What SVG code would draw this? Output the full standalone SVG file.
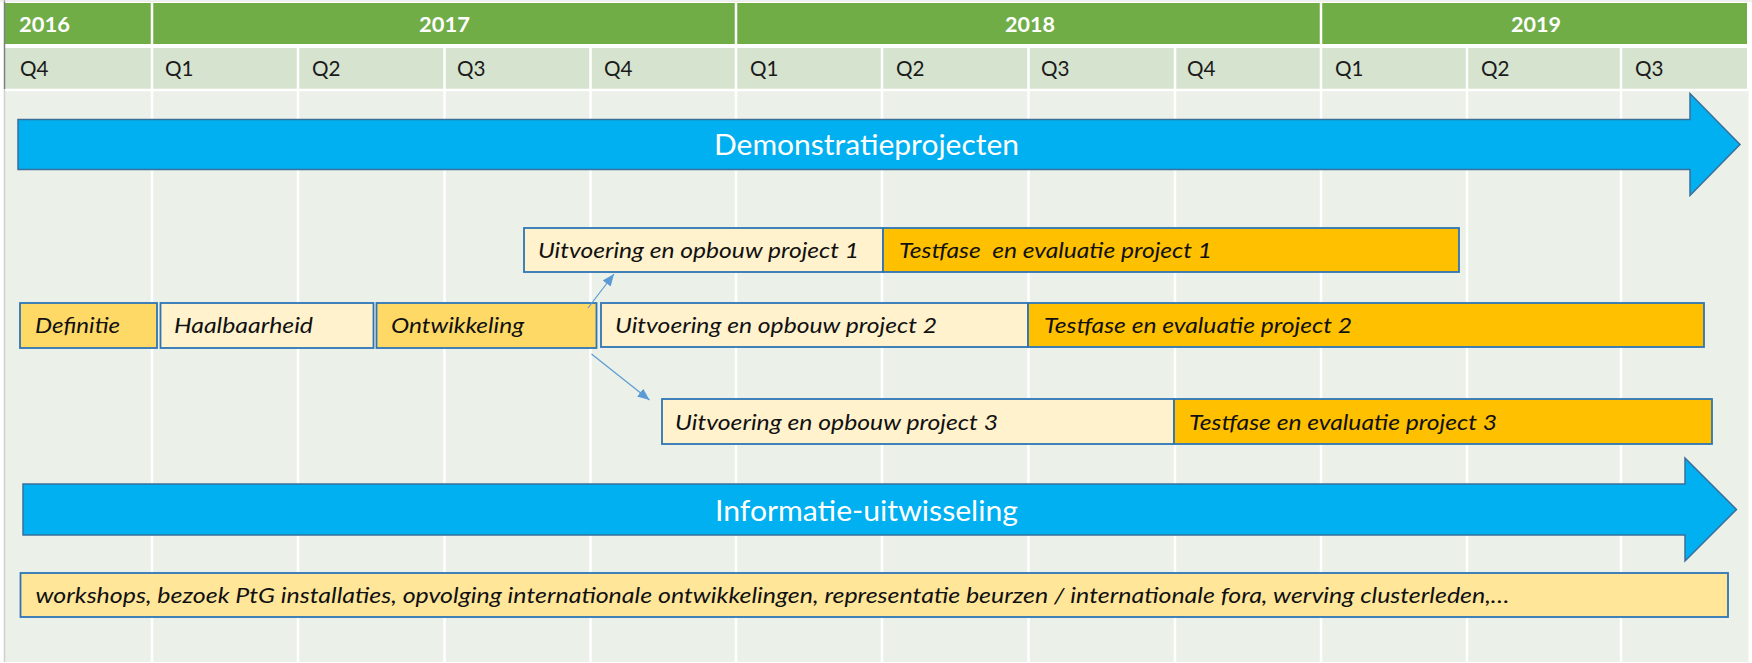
<svg xmlns="http://www.w3.org/2000/svg" width="1752" height="663" viewBox="0 0 1752 663">
<style>
.yr{font-family:Lato,"Open Sans",sans-serif;font-weight:bold;font-size:20px;fill:#FFFFFF}
.q{font-family:Lato,"Open Sans",sans-serif;font-size:21px;fill:#1A1A1A}
.big{font-family:Lato,"Open Sans",sans-serif;font-size:28px;fill:#FFFFFF}
.lbl{font-family:Lato,"Open Sans",sans-serif;font-style:italic;font-size:21px;fill:#111111}
.box{stroke:#2E75B6;stroke-width:1.8}
.light{fill:#FFF2CC}
.mid{fill:#FFD966}
.dark{fill:#FFC000}
.arrow{fill:#00B0F0;stroke:#3A6F9A;stroke-width:1.5}
.gl{stroke:#FFFFFF;stroke-width:2.5}
.conn{stroke:#5B9BD5;stroke-width:1.2;fill:none}
</style>
<defs>
<marker id="ah" markerUnits="userSpaceOnUse" markerWidth="14" markerHeight="12" refX="12" refY="5" orient="auto">
<path d="M0,0 L12,5 L0,10 Z" fill="#5B9BD5"/>
</marker>
</defs>
<rect x="0" y="0" width="1752" height="663" fill="#FFFFFF"/>
<g id="grid">
<rect x="5" y="89" width="1743.5" height="573" fill="#EBF0E9"/>
<rect x="5" y="3" width="1742" height="41" fill="#70AD47"/>
<rect x="5" y="48" width="1742" height="41" fill="#D6E3CE"/>
<line class="gl" x1="5" y1="90" x2="1748" y2="90"/>
<g class="gl">
<line x1="152" y1="48" x2="152" y2="662"/>
<line x1="298" y1="48" x2="298" y2="662"/>
<line x1="444.5" y1="48" x2="444.5" y2="662"/>
<line x1="590.5" y1="48" x2="590.5" y2="662"/>
<line x1="736" y1="48" x2="736" y2="662"/>
<line x1="882" y1="48" x2="882" y2="662"/>
<line x1="1028.5" y1="48" x2="1028.5" y2="662"/>
<line x1="1175" y1="48" x2="1175" y2="662"/>
<line x1="1321" y1="48" x2="1321" y2="662"/>
<line x1="1467" y1="48" x2="1467" y2="662"/>
<line x1="1621" y1="48" x2="1621" y2="662"/>
<line x1="152" y1="3" x2="152" y2="44"/>
<line x1="736" y1="3" x2="736" y2="44"/>
<line x1="1321" y1="3" x2="1321" y2="44"/>
</g>
<line x1="4.5" y1="0" x2="4.5" y2="89" stroke="#7F7F7F" stroke-width="1.5"/>
<line x1="4.5" y1="89" x2="4.5" y2="662" stroke="#D0D0D0" stroke-width="1.5"/>
<line x1="0" y1="1" x2="1752" y2="1" stroke="#E0E0E0" stroke-width="1"/>
</g>
<g id="header">
<text class="yr" x="19" y="31.5" textLength="51" lengthAdjust="spacingAndGlyphs">2016</text>
<text class="yr" x="419" y="31.5" textLength="51" lengthAdjust="spacingAndGlyphs">2017</text>
<text class="yr" x="1005" y="31.5" textLength="50" lengthAdjust="spacingAndGlyphs">2018</text>
<text class="yr" x="1511" y="31.5" textLength="50" lengthAdjust="spacingAndGlyphs">2019</text>
<text class="q" x="20" y="76" textLength="28.5" lengthAdjust="spacingAndGlyphs">Q4</text>
<text class="q" x="165" y="76" textLength="28.5" lengthAdjust="spacingAndGlyphs">Q1</text>
<text class="q" x="312" y="76" textLength="28.5" lengthAdjust="spacingAndGlyphs">Q2</text>
<text class="q" x="457" y="76" textLength="28.5" lengthAdjust="spacingAndGlyphs">Q3</text>
<text class="q" x="604" y="76" textLength="28.5" lengthAdjust="spacingAndGlyphs">Q4</text>
<text class="q" x="750" y="76" textLength="28.5" lengthAdjust="spacingAndGlyphs">Q1</text>
<text class="q" x="896" y="76" textLength="28.5" lengthAdjust="spacingAndGlyphs">Q2</text>
<text class="q" x="1041" y="76" textLength="28.5" lengthAdjust="spacingAndGlyphs">Q3</text>
<text class="q" x="1187" y="76" textLength="28.5" lengthAdjust="spacingAndGlyphs">Q4</text>
<text class="q" x="1335" y="76" textLength="28.5" lengthAdjust="spacingAndGlyphs">Q1</text>
<text class="q" x="1481" y="76" textLength="28.5" lengthAdjust="spacingAndGlyphs">Q2</text>
<text class="q" x="1635" y="76" textLength="28.5" lengthAdjust="spacingAndGlyphs">Q3</text>
</g>
<g id="demonstratieprojecten">
<path class="arrow" d="M18,119.5 H1690 V93.5 L1740,144.5 L1690,195.5 V169.5 H18 Z"/>
<text class="big" x="714" y="155" textLength="305" lengthAdjust="spacingAndGlyphs">Demonstratieprojecten</text>
</g>
<g id="definitie">
<rect class="box mid" x="20" y="303" width="137" height="45"/>
<text class="lbl" x="35" y="333" textLength="85" lengthAdjust="spacingAndGlyphs">Definitie</text>
</g>
<g id="haalbaarheid">
<rect class="box light" x="160.5" y="303" width="213" height="45"/>
<text class="lbl" x="174" y="333" textLength="139" lengthAdjust="spacingAndGlyphs">Haalbaarheid</text>
</g>
<g id="ontwikkeling">
<rect class="box mid" x="376.5" y="303" width="220" height="45"/>
<text class="lbl" x="391" y="333" textLength="133" lengthAdjust="spacingAndGlyphs">Ontwikkeling</text>
</g>
<g id="uitvoering1">
<rect class="box light" x="524" y="228" width="359" height="44"/>
<text class="lbl" x="538" y="258" textLength="321" lengthAdjust="spacingAndGlyphs">Uitvoering en opbouw project 1</text>
</g>
<g id="testfase1">
<rect class="box dark" x="883" y="228" width="576" height="44"/>
<text class="lbl" x="899" y="258" textLength="313" lengthAdjust="spacingAndGlyphs" xml:space="preserve">Testfase  en evaluatie project 1</text>
</g>
<g id="uitvoering2">
<rect class="box light" x="601" y="303" width="427" height="44"/>
<text class="lbl" x="615" y="333" textLength="322" lengthAdjust="spacingAndGlyphs">Uitvoering en opbouw project 2</text>
</g>
<g id="testfase2">
<rect class="box dark" x="1028" y="303" width="676" height="44"/>
<text class="lbl" x="1044" y="333" textLength="308" lengthAdjust="spacingAndGlyphs">Testfase en evaluatie project 2</text>
</g>
<g id="uitvoering3">
<rect class="box light" x="662" y="399" width="512" height="45"/>
<text class="lbl" x="675" y="430" textLength="323" lengthAdjust="spacingAndGlyphs">Uitvoering en opbouw project 3</text>
</g>
<g id="testfase3">
<rect class="box dark" x="1174" y="399" width="538" height="45"/>
<text class="lbl" x="1189" y="430" textLength="308" lengthAdjust="spacingAndGlyphs">Testfase en evaluatie project 3</text>
</g>
<g id="informatie-uitwisseling">
<path class="arrow" d="M23,484 H1685 V458 L1736.5,509.5 L1685,561 V535 H23 Z"/>
<text class="big" x="715" y="521" textLength="303" lengthAdjust="spacingAndGlyphs">Informatie-uitwisseling</text>
</g>
<g id="activiteiten">
<rect class="box" x="20.5" y="573" width="1707.5" height="44" fill="#FFE699"/>
<text class="lbl" x="35.5" y="603" font-size="20" textLength="1474" lengthAdjust="spacingAndGlyphs">workshops, bezoek PtG installaties, opvolging internationale ontwikkelingen, representatie beurzen / internationale fora, werving clusterleden,…</text>
</g>
<g id="connectors">
<line class="conn" x1="588" y1="308" x2="614" y2="274" marker-end="url(#ah)"/>
<line class="conn" x1="591.5" y1="354" x2="649.5" y2="400" marker-end="url(#ah)"/>
</g>
</svg>
